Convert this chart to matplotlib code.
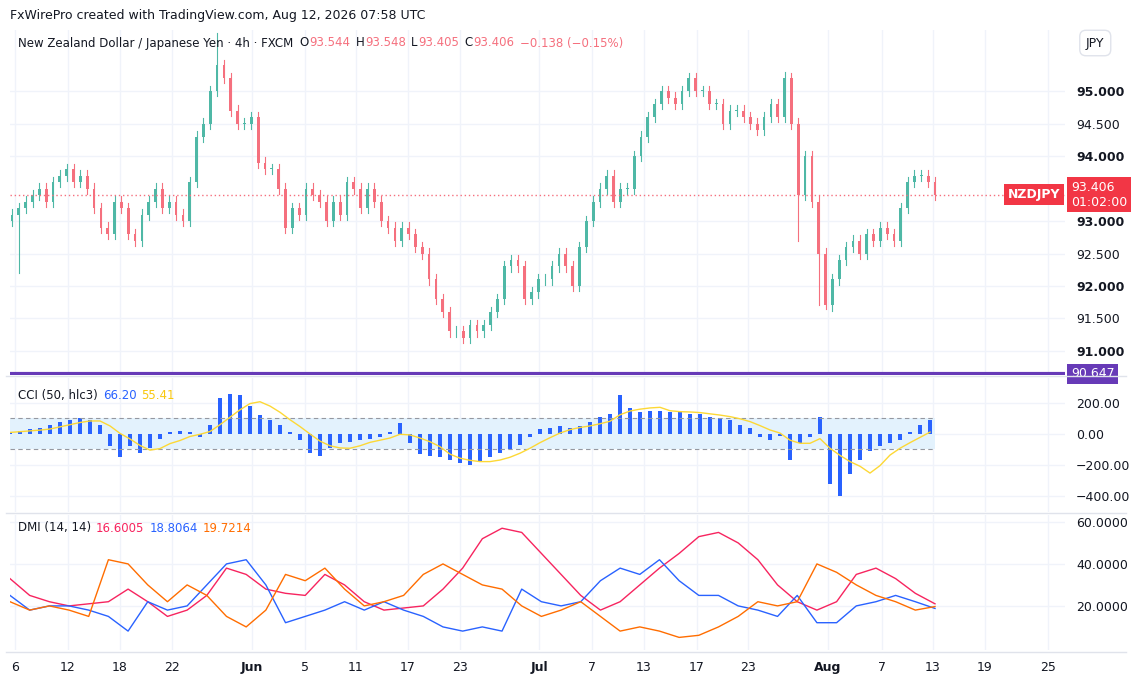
import matplotlib.pyplot as plt
import matplotlib.patches as mpatches
import numpy as np
import pandas as pd

# NZDJPY closes (roughly 12h steps)
closes = [93.1, 93.2, 93.3, 93.4, 93.5, 93.3, 93.6, 93.7, 93.8, 93.6, 93.7, 93.5, 93.2, 92.9, 92.8,
          93.3, 93.2, 92.8, 92.7, 93.1, 93.3, 93.5, 93.2, 93.3, 93.1, 93.0, 93.6, 94.3, 94.5, 95.0,
          95.4, 95.2, 94.7, 94.5, 94.5, 94.6, 93.9, 93.8, 93.8, 93.5, 92.9, 93.2, 93.1, 93.5, 93.4,
          93.3, 93.0, 93.3, 93.1, 93.6, 93.5, 93.2, 93.5, 93.3, 93.0, 92.9, 92.7, 92.9, 92.8, 92.6,
          92.5, 92.1, 91.8, 91.6, 91.3, 91.3, 91.2, 91.4, 91.3, 91.4, 91.6, 91.8, 92.3, 92.4, 92.3,
          91.8, 91.9, 92.1, 92.1, 92.3, 92.5, 92.3, 92.0, 92.6, 93.0, 93.3, 93.5, 93.7, 93.3, 93.5,
          93.5, 94.0, 94.3, 94.6, 94.8, 95.0, 94.9, 94.8, 95.0, 95.2, 95.0, 95.0, 94.8, 94.8, 94.5,
          94.7, 94.7, 94.6, 94.5, 94.4, 94.6, 94.8, 94.6, 95.2, 94.5, 93.4, 94.0, 93.3, 92.5, 91.7,
          92.1, 92.4, 92.6, 92.7, 92.5, 92.8, 92.7, 92.9, 92.8, 92.7, 93.2, 93.6, 93.7, 93.7, 93.6,
          93.406]
first_open = 93.0
wick_low = {1: 92.2, 115: 92.7, 119: 91.65, 118: 91.7}
wick_high = {30: 95.9, 113: 95.3}

# CCI (50, hlc3), about 10px steps
cci = [10, 20, 30, 40, 60, 80, 90, 100, 90, 60, -80, -150, -80, -120, -90, -30, 10, 20, 10, -20,
       60, 230, 260, 250, 180, 120, 90, 60, 10, -40, -120, -140, -90, -60, -50, -40, -30, -20, 10, 70,
       -60, -130, -140, -150, -170, -190, -200, -180, -150, -120, -100, -70, -20, 30, 40, 50, 40, 50, 80, 110,
       130, 250, 170, 140, 150, 150, 140, 140, 130, 130, 110, 100, 90, 60, 40, -20, -40, -10, -170, -60,
       -20, 110, -320, -400, -260, -170, -110, -80, -60, -40, 10, 60, 90]

# DMI (14, 14), about 20px steps
dmi_pink = [33, 25, 22, 20, 21, 22, 28, 22, 15, 18, 25, 38, 35, 28, 26, 25, 35, 30, 22, 18,
            19, 20, 28, 38, 52, 57, 55, 45, 35, 25, 18, 22, 30, 38, 45, 53, 55, 50, 42, 30,
            22, 18, 22, 35, 38, 33, 26, 21]
dmi_blue = [25, 18, 20, 20, 18, 15, 8, 22, 18, 20, 30, 40, 42, 30, 12, 15, 18, 22, 18, 22,
            18, 15, 10, 8, 10, 8, 28, 22, 20, 22, 32, 38, 35, 42, 32, 25, 25, 20, 18, 15,
            25, 12, 12, 20, 22, 25, 22, 18.8]
dmi_orange = [22, 18, 20, 18, 15, 42, 40, 30, 22, 30, 25, 15, 10, 18, 35, 32, 38, 28, 20, 22,
              25, 35, 40, 35, 30, 28, 20, 15, 18, 22, 15, 8, 10, 8, 5, 6, 10, 15, 22, 20,
              22, 40, 36, 30, 25, 22, 18, 19.7]

tick_labels = ['6', '12', '18', '22', 'Jun', '5', '11', '17', '23', 'Jul', '7', '13', '17', '23',
               'Aug', '7', '13', '19', '25']
tick_px = [15, 68, 120, 172, 252, 305, 356, 408, 460, 539, 592, 644, 697, 748, 828, 882, 933, 985, 1048]

GREEN, RED = '#4fb8a6', '#f5707e'
GRID = '#f0f3fa'
TXT = '#131722'
last = closes[-1]

x0, x1 = 12, 935
xr = (10, 1065)
xc = np.linspace(x0, x1, len(closes))
xcci = np.linspace(10, 930, len(cci))
xdmi = np.linspace(10, 935, len(dmi_pink))

fig = plt.figure(figsize=(11.32, 6.8), dpi=100)
W, H = 1132, 680
def box(top, bot):
    return [xr[0] / W, 1 - bot / H, (xr[1] - xr[0]) / W, (bot - top) / H]

ax1 = fig.add_axes(box(30, 375))
ax2 = fig.add_axes(box(378, 512))
ax3 = fig.add_axes(box(515, 650))

for ax in (ax1, ax2, ax3):
    ax.set_xlim(*xr)
    for s in ax.spines.values():
        s.set_visible(False)
    ax.tick_params(length=0, labelsize=9, colors=TXT, pad=8)
    ax.yaxis.tick_right()
    ax.set_xticks(tick_px)
    ax.grid(color=GRID, lw=1)
    ax.set_axisbelow(True)
    ax.set_xticklabels([])

# price candles
opens = [first_open] + closes[:-1]
w = (x1 - x0) / (len(closes) - 1) * 0.4
for i, (o, c) in enumerate(zip(opens, closes)):
    col = GREEN if c >= o else RED
    hi = wick_high.get(i, max(o, c) + 0.08)
    lo = wick_low.get(i, min(o, c) - 0.08)
    ax1.plot([xc[i], xc[i]], [lo, hi], color=col, lw=0.8)
    ax1.add_patch(mpatches.Rectangle((xc[i] - w / 2, min(o, c)), w, max(abs(c - o), 0.01),
                                     color=col, lw=0))
ax1.set_ylim(90.63, 95.94)
pt = [91.0, 91.5, 92.0, 92.5, 93.0, 94.0, 94.5, 95.0]
ax1.set_yticks(pt)
ax1.set_yticklabels([f'{v:.3f}' for v in pt])
for lab, v in zip(ax1.get_yticklabels(), pt):
    if abs(v - round(v)) < 1e-6:
        lab.set_fontweight('bold')
ax1.axhline(last, color=RED, lw=1, ls=(0, (1, 2)))
ax1.axhline(90.647, color='#673ab7', lw=3)
ax1.text(1071, last, f'{last:.3f}\n01:02:00', ha='left', va='center', color='white', fontsize=9,
         clip_on=False, bbox=dict(boxstyle='square,pad=0.3', fc='#f23645', ec='none'))
ax1.text(1060, last, 'NZDJPY', ha='right', va='center', color='white', fontsize=9, fontweight='bold',
         bbox=dict(boxstyle='square,pad=0.3', fc='#f23645', ec='none'))
ax1.text(1071, 90.647, '90.647', ha='left', va='center', color='white', fontsize=9, clip_on=False,
         bbox=dict(boxstyle='square,pad=0.3', fc='#673ab7', ec='none'))

# CCI
ax2.axhspan(-100, 100, xmin=0, xmax=(935 - 10) / (1065 - 10), color='#e3f2fd', lw=0)
for lv in (100, -100):
    ax2.plot([10, 935], [lv, lv], color='#9598a1', lw=0.8, ls=(0, (4, 3)))
ax2.bar(xcci, cci, width=4, color='#2962ff', lw=0)
cci_ma = pd.Series(cci).rolling(5, min_periods=1).mean()
ax2.plot(xcci, cci_ma, color='#fdd835', lw=1)
ax2.set_ylim(-503, 361)
ax2.set_yticks([200, 0, -200, -400])
ax2.set_yticklabels(['200.00', '0.00', '\u2212200.00', '\u2212400.00'])

# DMI
ax3.plot(xdmi, dmi_pink, color='#f7245f', lw=1)
ax3.plot(xdmi, dmi_blue, color='#2962ff', lw=1)
ax3.plot(xdmi, dmi_orange, color='#ff6d00', lw=1)
ax3.set_ylim(-1, 63.3)
ax3.set_yticks([20, 40, 60])
ax3.set_yticklabels(['20.0000', '40.0000', '60.0000'])
ax3.set_xticklabels(tick_labels)
for lab in ax3.get_xticklabels():
    if lab.get_text() in ('Jun', 'Jul', 'Aug'):
        lab.set_fontweight('bold')
ax3.tick_params(axis='x', pad=8)

for yy in (376, 513, 652):
    fig.add_artist(plt.Line2D([0.005, 0.995], [1 - yy / H] * 2, color='#e0e3eb', lw=1))

# header and legends: pieces placed one after another
renderer = fig.canvas.get_renderer()
def chain(x_px, y_px, parts, size=8.5):
    x = x_px
    for t, c, gap in parts:
        tx = fig.text(x / W, 1 - y_px / H, t, fontsize=size, va='center', color=c)
        x += tx.get_window_extent(renderer).width + gap
    return x

fig.text(10 / W, 1 - 15 / H, 'FxWirePro created with TradingView.com, Aug 12, 2026 07:58 UTC',
         fontsize=9, va='center', color=TXT)
chain(18, 43, [('New Zealand Dollar / Japanese Yen \u00b7 4h \u00b7 FXCM', TXT, 6),
               ('O', TXT, 1), ('93.544', RED, 5), ('H', TXT, 1), ('93.548', RED, 5),
               ('L', TXT, 1), ('93.405', RED, 5), ('C', TXT, 1), ('93.406', RED, 5),
               ('\u22120.138 (\u22120.15%)', RED, 0)])
chain(18, 395, [('CCI (50, hlc3)', TXT, 5), ('66.20', '#2962ff', 5), ('55.41', '#f9c80e', 0)])
chain(18, 528, [('DMI (14, 14)', TXT, 5), ('16.6005', '#f7245f', 5), ('18.8064', '#2962ff', 5),
                ('19.7214', '#ff6d00', 0)])
fig.text(1086 / W, 1 - 43 / H, 'JPY', fontsize=9, va='center', color=TXT,
         bbox=dict(boxstyle='round,pad=0.5', fc='white', ec='#e0e3eb'))

fig.savefig('out.png', dpi=100)
